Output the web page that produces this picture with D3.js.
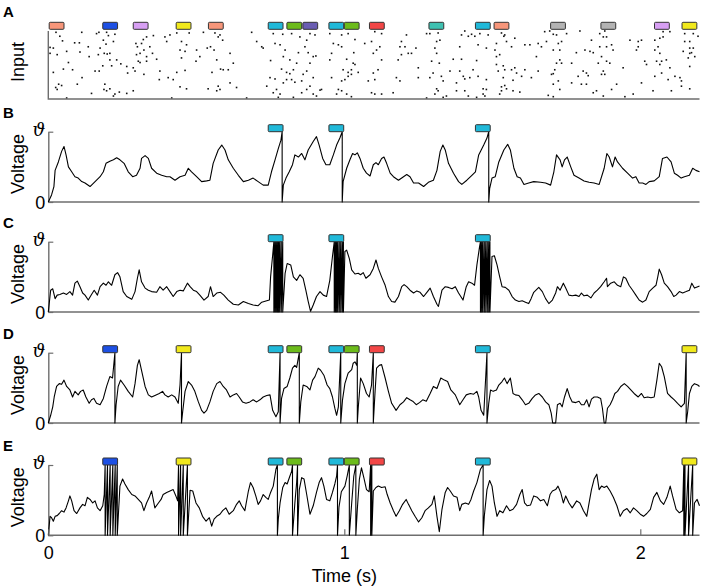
<!DOCTYPE html>
<html>
<head>
<meta charset="utf-8">
<script src="https://cdn.jsdelivr.net/npm/d3@7/dist/d3.min.js"></script>
<style>
	body { margin: 0; background: #fff; }
	svg text { font-family: "Liberation Sans", Arial, sans-serif; }
</style>
</head>
<body>
<svg id="chart" width="702" height="588"></svg>
<script>
/**********************************************************/
/*	Data (times in ms, voltage in units of threshold)     */
/**********************************************************/

// Repeated input patterns: start time and pattern id
var patternStarts = [3, 184, 287, 432, 541, 743, 806, 860, 948, 1000, 1085, 1286, 1443, 1506, 1697, 1867, 2048, 2141];
var patternIds    = [1, 2, 3, 4, 1, 5, 6, 7, 5, 6, 8, 9, 5, 1, 10, 10, 3, 4];
var patternLength = 50;

// Input raster: [time, afferent]
var inputSpikes = [
	[26,100],[39,94],[48,87],[6,77],[17,76],[89,84],[105,84],[62,71],[30,66],[6,68],[68,54],[51,44],[82,43],[17,39],[114,31],[98,21],[35,21],[45,19],[30,13],[25,16],[146,7],[113,100],[163,98],[171,100],[135,78],[107,70],[138,63],[158,41],[62,0],
	[197,100],[203,95],[225,97],[186,88],[195,82],[220,86],[175,76],[189,68],[199,67],[208,68],[169,66],[208,58],[231,58],[214,49],[245,52],[265,48],[184,49],[172,41],[268,38],[287,46],[304,56],[310,68],[301,78],[296,83],[321,89],[315,83],[332,93],[323,73],[298,66],[310,54],[332,56],[293,41],[323,36],[191,21],[188,13],[197,11],[208,14],[225,6],[220,3],[240,9],[265,7],[287,11],[355,95],[343,78],[352,68],[332,63],[366,59],[377,41],[375,28],[405,31],
	[394,93],[411,96],[400,86],[434,99],[476,99],[450,86],[467,81],[445,73],[462,71],[450,61],[501,73],[512,63],[499,56],[462,42],[434,39],[422,28],[445,17],[467,14],[417,0],[524,100],[563,99],[574,93],[580,96],[589,88],[548,78],[560,73],[537,76],[569,58],[553,39],[582,44],[591,43],[608,43],[625,53],[614,68],[574,18],[580,13],[569,11],[540,14],[636,16],[614,23],
	[687,100],[704,86],[726,76],[721,78],[760,98],[792,97],[783,81],[766,83],[800,73],[751,57],[794,63],[816,58],[828,43],[788,44],[805,39],[816,37],[766,29],[749,31],[805,28],[794,23],[738,18],[771,13],[760,8],[783,6],[777,1],[828,1],[670,0],[822,98],[850,93],[845,69],[839,53],[822,28],[833,24],[856,26],[856,8],
	[873,88],[901,96],[884,98],[867,78],[878,69],[895,63],[904,64],[884,53],[873,41],[861,36],[895,31],[884,18],[873,13],[895,6],[918,12],[923,13],[906,3],[951,98],[963,83],[980,81],[957,68],[951,58],[957,31],[980,13],[974,6],
	[991,96],[1013,98],[1036,89],[991,78],[1008,59],[1030,53],[1036,51],[1032,69],[1024,43],[1013,39],[996,43],[991,26],[1002,28],[1013,33],[1024,36],[1047,39],[991,11],[1008,6],[1024,2],[1069,83],[1092,86],[1098,68],[1103,101],[1126,98],[1120,78],[1109,73],[1126,58],[1114,43],[1098,38],[1103,28],[1081,26],[1092,8],[1103,6],[1126,6],[1165,8],[1193,86],[1205,78],[1188,78],[1210,96],[1216,68],[1193,66],[1182,58],[1176,31],[1188,26],
	[1227,68],[1242,76],[1250,46],[1250,31],[1278,98],[1289,98],[1317,99],[1312,86],[1323,88],[1306,76],[1312,68],[1295,56],[1321,53],[1300,38],[1289,31],[1328,33],[1357,41],[1334,26],[1312,14],[1317,11],[1306,6],[1345,3],[1334,1],[1278,0],[1368,59],[1379,23],[1396,96],[1407,102],[1419,94],[1430,97],[1390,78],[1396,59],[1390,41],[1402,33],[1407,29],[1424,31],[1379,11],[1407,11],[1419,3],
	[1441,94],[1458,98],[1486,96],[1452,81],[1480,76],[1447,57],[1435,43],[1452,33],[1480,28],[1469,14],[1480,13],[1469,6],[1475,3],[1447,1],[1514,83],[1509,73],[1514,63],[1525,66],[1514,51],[1520,41],[1531,99],[1539,94],[1542,96],[1548,86],[1576,91],[1565,78],[1537,49],[1542,43],[1576,46],[1565,43],[1537,31],[1570,27],[1599,33],[1582,38],[1531,17],[1542,19],[1548,14],[1531,11],[1525,6],[1570,11],[1593,9],[1610,43],[1610,81],[1627,81],[1632,31],[1655,41],[1655,83],[1649,63],[1666,78],
	[1677,101],[1694,102],[1706,97],[1683,86],[1717,96],[1723,83],[1734,86],[1751,98],[1706,73],[1728,73],[1728,58],[1717,53],[1734,53],[1711,43],[1706,37],[1700,36],[1723,26],[1706,21],[1728,13],[1689,4],[1706,2],[1768,53],[1796,102],[1784,69],[1813,73],[1835,88],[1830,71],[1841,69],[1807,41],[1818,38],[1824,34],[1790,33],[1768,23],[1801,21],[1818,21],[1852,11],[1880,102],[1863,98],[1875,93],[1886,93],[1863,78],[1886,78],[1903,81],[1908,73],[1869,63],[1886,56],[1897,53],[1858,53],[1875,41],[1869,36],[1880,36],[1903,13],[1875,3],[1841,8],
	[1942,46],[1920,21],[1948,2],[1965,88],[1993,86],[2004,88],[1993,78],[1987,73],[2015,56],[2021,51],[2004,23],[1976,6],[2049,88],[2060,78],[2066,91],[2077,93],[2077,101],[2100,101],[2049,73],[2066,68],[2055,56],[2072,56],[2088,58],[2066,51],[2100,46],[2072,38],[2049,33],[2094,28],[2105,11],[2043,11],[2117,33],[2134,31],[2139,26],[2139,18],[2167,14],[2150,98],[2179,98],[2195,94],[2150,86],[2167,86],[2145,71],[2167,76],[2179,76],[2173,69],[2167,68],[2162,61],[2167,48],[2184,63]
];

// Membrane potential traces: [time, voltage]
var traceB = [
	[0,0],[11,0.10],[19,0.22],[23,0.45],[34,0.57],[45,0.72],[53,0.79],[60,0.67],[68,0.50],[79,0.43],[90,0.36],[101,0.34],[113,0.29],[124,0.27],[141,0.22],[158,0.29],[175,0.36],[186,0.43],[195,0.55],[208,0.58],[220,0.60],[231,0.63],[242,0.60],[256,0.55],[270,0.43],[285,0.36],[298,0.38],[310,0.48],[315,0.62],[327,0.66],[338,0.62],[349,0.48],[366,0.41],[383,0.38],[400,0.36],[411,0.36],[428,0.31],[445,0.36],[462,0.38],[473,0.48],[484,0.43],[501,0.36],[518,0.29],[535,0.30],[546,0.31],[557,0.55],[574,0.74],[586,0.81],[597,0.74],[608,0.60],[625,0.48],[642,0.38],[659,0.29],[676,0.31],[692,0.34],[709,0.29],[726,0.24],[743,0.24],[754,0.43],[766,0.60],[777,0.76],[786,0.88],
	[794,0.24],[803,0.34],[814,0.43],[825,0.53],[833,0.67],[845,0.64],[856,0.69],[867,0.60],[878,0.74],[895,0.86],[906,0.93],[915,0.81],[927,0.62],[938,0.53],[951,0.53],[963,0.67],[974,0.81],[985,0.91],
	[996,0.29],[1008,0.48],[1019,0.60],[1028,0.69],[1036,0.67],[1044,0.70],[1053,0.62],[1064,0.48],[1075,0.41],[1087,0.37],[1098,0.53],[1107,0.56],[1115,0.53],[1126,0.62],[1134,0.64],[1143,0.55],[1155,0.41],[1166,0.36],[1183,0.31],[1200,0.36],[1211,0.39],[1222,0.36],[1234,0.27],[1251,0.27],[1268,0.22],[1284,0.28],[1301,0.31],[1313,0.45],[1324,0.72],[1333,0.81],[1341,0.74],[1352,0.55],[1369,0.41],[1386,0.29],[1397,0.25],[1414,0.31],[1431,0.38],[1443,0.43],[1454,0.67],[1471,0.81],[1482,0.91],
	[1491,0.19],[1499,0.34],[1510,0.36],[1522,0.57],[1539,0.74],[1552,0.82],[1561,0.74],[1573,0.48],[1584,0.36],[1595,0.34],[1607,0.25],[1623,0.27],[1640,0.29],[1663,0.28],[1680,0.27],[1697,0.24],[1708,0.43],[1717,0.67],[1729,0.60],[1736,0.50],[1744,0.60],[1753,0.64],[1765,0.50],[1776,0.38],[1793,0.34],[1810,0.30],[1827,0.28],[1844,0.27],[1861,0.25],[1878,0.48],[1887,0.69],[1895,0.64],[1906,0.50],[1915,0.64],[1923,0.57],[1940,0.48],[1957,0.41],[1974,0.34],[1985,0.36],[1996,0.27],[2008,0.27],[2019,0.25],[2030,0.29],[2047,0.30],[2064,0.36],[2075,0.62],[2090,0.64],[2104,0.57],[2115,0.41],[2126,0.38],[2138,0.34],[2149,0.36],[2166,0.38],[2177,0.48],[2188,0.45],[2200,0.43]
];
var spikesB = [790, 993, 1488];

var traceC = [
	[0,0],[8,0.31],[15,0.33],[23,0.19],[30,0.24],[39,0.25],[51,0.27],[62,0.25],[73,0.29],[82,0.24],[90,0.41],[98,0.44],[107,0.36],[116,0.27],[124,0.24],[135,0.17],[146,0.25],[155,0.31],[166,0.24],[175,0.36],[186,0.41],[195,0.38],[203,0.43],[214,0.38],[225,0.53],[234,0.56],[242,0.50],[253,0.29],[265,0.22],[282,0.18],[293,0.29],[301,0.48],[307,0.60],[315,0.43],[327,0.34],[338,0.31],[349,0.29],[366,0.28],[377,0.36],[388,0.31],[400,0.36],[411,0.29],[422,0.22],[434,0.29],[445,0.31],[456,0.30],[470,0.41],[479,0.36],[490,0.31],[501,0.29],[512,0.24],[526,0.17],[540,0.22],[548,0.36],[557,0.22],[569,0.27],[582,0.28],[593,0.24],[608,0.17],[625,0.11],[642,0.10],[659,0.15],[676,0.12],[692,0.10],[709,0.09],[721,0.14],[738,0.16],[747,0.17],[751,0.50],[758,0.81],
	[800,0.55],[807,0.69],[819,0.67],[828,0.50],[839,0.45],[850,0.53],[861,0.48],[870,0.31],[878,0.15],[886,0.01],[895,0.10],[906,0.22],[918,0.29],[929,0.24],[940,0.22],[951,0.45],[960,0.79],
	[1002,0.86],[1008,0.88],[1017,0.76],[1025,0.60],[1036,0.54],[1047,0.55],[1055,0.53],[1064,0.56],[1073,0.48],[1087,0.53],[1098,0.62],[1107,0.74],[1115,0.62],[1126,0.50],[1138,0.38],[1149,0.22],[1160,0.15],[1171,0.14],[1183,0.22],[1194,0.36],[1202,0.39],[1211,0.36],[1222,0.31],[1234,0.27],[1245,0.30],[1256,0.28],[1268,0.22],[1281,0.29],[1290,0.34],[1301,0.22],[1313,0.11],[1318,0.08],[1330,0.31],[1341,0.36],[1352,0.35],[1364,0.33],[1375,0.36],[1386,0.27],[1401,0.17],[1412,0.36],[1420,0.43],[1431,0.41],[1440,0.38],[1448,0.67],[1457,0.93],
	[1499,0.79],[1507,0.80],[1516,0.67],[1525,0.50],[1533,0.36],[1544,0.35],[1556,0.31],[1567,0.22],[1578,0.17],[1590,0.15],[1601,0.16],[1612,0.14],[1623,0.12],[1631,0.19],[1640,0.28],[1657,0.35],[1669,0.29],[1680,0.19],[1691,0.12],[1703,0.17],[1714,0.27],[1720,0.36],[1729,0.31],[1740,0.41],[1748,0.34],[1759,0.24],[1770,0.23],[1782,0.24],[1793,0.22],[1801,0.27],[1810,0.23],[1821,0.24],[1833,0.20],[1844,0.27],[1855,0.31],[1866,0.36],[1878,0.43],[1886,0.48],[1889,0.36],[1900,0.41],[1912,0.43],[1923,0.38],[1934,0.36],[1943,0.50],[1951,0.48],[1962,0.38],[1974,0.31],[1985,0.24],[1996,0.17],[2008,0.14],[2019,0.17],[2030,0.29],[2042,0.34],[2053,0.38],[2059,0.50],[2064,0.61],[2072,0.53],[2081,0.41],[2092,0.36],[2104,0.29],[2113,0.22],[2121,0.24],[2132,0.29],[2143,0.27],[2155,0.29],[2166,0.31],[2174,0.41],[2183,0.34],[2194,0.36],[2200,0.37]
];
var spikesC = [762, 766, 770, 774, 778, 782, 787, 792, 966, 970, 974, 978, 983, 988, 993, 997, 1460, 1464, 1468, 1473, 1478, 1483, 1488, 1492];

var traceD = [
	[0,0],[8,0.11],[15,0.23],[20,0.37],[28,0.52],[37,0.56],[45,0.55],[53,0.61],[62,0.52],[73,0.47],[82,0.37],[90,0.45],[101,0.40],[109,0.45],[118,0.47],[127,0.37],[138,0.28],[146,0.33],[154,0.35],[163,0.28],[175,0.26],[186,0.35],[197,0.52],[208,0.66],[217,0.64],
	[229,0.26],[236,0.52],[244,0.61],[256,0.54],[270,0.45],[285,0.37],[293,0.56],[301,0.82],[307,0.90],[315,0.75],[327,0.52],[338,0.40],[349,0.37],[364,0.40],[375,0.42],[386,0.45],[394,0.40],[405,0.37],[417,0.40],[428,0.37],[439,0.28],[445,0.54],
	[454,0.16],[462,0.45],[473,0.59],[484,0.54],[495,0.45],[507,0.30],[518,0.18],[526,0.14],[535,0.18],[546,0.30],[557,0.45],[569,0.56],[580,0.59],[591,0.52],[602,0.47],[614,0.37],[625,0.40],[636,0.42],[645,0.37],[656,0.30],[668,0.28],[681,0.30],[692,0.33],[704,0.30],[715,0.33],[726,0.37],[738,0.39],[749,0.40],[758,0.18],[769,0.09],[777,0.16],
	[788,0.35],[796,0.49],[807,0.52],[816,0.64],[825,0.78],[833,0.82],[839,0.79],
	[853,0.30],[861,0.54],[873,0.52],[884,0.47],[893,0.61],[901,0.66],[912,0.78],[920,0.75],[931,0.68],[942,0.54],[951,0.49],[960,0.37],[968,0.21],[974,0.11],[980,0.23],
	[994,0.33],[1002,0.56],[1013,0.71],[1025,0.76],[1030,0.85],[1036,0.87],[1042,0.82],
	[1047,0.21],[1055,0.64],[1064,0.56],[1075,0.42],[1084,0.37],[1092,0.54],
	[1104,0.45],[1109,0.78],[1118,0.82],[1126,0.83],[1138,0.64],[1149,0.45],[1160,0.28],[1175,0.18],[1188,0.26],[1200,0.30],[1211,0.36],[1222,0.33],[1231,0.31],[1243,0.26],[1254,0.29],[1265,0.33],[1277,0.31],[1290,0.42],[1301,0.52],[1313,0.49],[1326,0.64],[1338,0.61],[1349,0.59],[1360,0.47],[1375,0.40],[1390,0.26],[1401,0.33],[1412,0.40],[1426,0.42],[1437,0.41],[1448,0.45],[1454,0.37],[1462,0.18],[1471,0.11],
	[1488,0.28],[1494,0.47],[1503,0.45],[1514,0.47],[1522,0.54],[1533,0.59],[1541,0.64],[1550,0.56],[1561,0.64],[1570,0.42],[1578,0.40],[1590,0.39],[1601,0.33],[1612,0.26],[1623,0.28],[1635,0.35],[1646,0.40],[1657,0.42],[1669,0.37],[1680,0.30],[1691,0.26],[1699,0.14],[1704,0],[1714,0],[1720,0.26],[1729,0.28],[1736,0.23],[1744,0.37],[1753,0.49],[1762,0.37],[1770,0.30],[1782,0.29],[1793,0.31],[1801,0.26],[1810,0.26],[1819,0.33],[1827,0.23],[1835,0.34],[1844,0.37],[1855,0.37],[1866,0.35],[1872,0.21],[1878,0],[1883,0],[1889,0.21],[1898,0.26],[1906,0.33],[1914,0.42],[1923,0.45],[1934,0.52],[1946,0.56],[1957,0.52],[1968,0.47],[1979,0.42],[1993,0.37],[2004,0.42],[2013,0.36],[2025,0.37],[2036,0.36],[2047,0.37],[2056,0.61],[2064,0.85],[2072,0.80],[2081,0.66],[2092,0.42],[2104,0.37],[2115,0.33],[2126,0.28],[2138,0.23],[2149,0.28],
	[2160,0.16],[2166,0.42],[2174,0.52],[2183,0.56],[2194,0.54],[2200,0.52]
];
var spikesD = [225, 450, 783, 848, 988, 1044, 1098, 1482, 2155];

var traceE = [
	[0,0],[6,0.27],[11,0.25],[17,0.20],[23,0.27],[30,0.28],[37,0.31],[45,0.35],[53,0.33],[60,0.39],[68,0.49],[73,0.56],[79,0.49],[87,0.35],[96,0.31],[107,0.39],[116,0.44],[124,0.42],[132,0.54],[141,0.51],[150,0.46],[158,0.49],[166,0.39],[175,0.35],[184,0.42],[189,0.58],
	[242,0.70],[251,0.80],[259,0.73],[270,0.65],[282,0.58],[293,0.56],[304,0.51],[315,0.46],[323,0.35],[332,0.46],[341,0.54],[349,0.63],[360,0.39],[372,0.46],[381,0.51],[388,0.58],[400,0.61],[411,0.63],[422,0.65],[431,0.56],[437,0.49],
	[479,0.64],[488,0.63],[499,0.46],[510,0.39],[521,0.27],[533,0.20],[544,0.25],[552,0.13],[560,0.23],[569,0.27],[580,0.30],[589,0.35],[600,0.39],[611,0.30],[625,0.35],[636,0.44],[645,0.49],[653,0.42],[664,0.35],[676,0.63],[683,0.75],[692,0.68],[701,0.56],[709,0.44],[717,0.49],[726,0.58],[735,0.54],[743,0.51],[751,0.61],[760,0.70],[769,0.94],
	[777,0.23],[783,0.46],[792,0.68],[800,0.75],[807,0.73],[816,0.84],[822,0.91],
	[833,0.46],[839,0.75],
	[848,0.65],[856,0.82],[864,0.80],[873,0.58],[884,0.30],[895,0.42],[906,0.61],[915,0.75],[923,0.82],[931,0.70],[940,0.51],[951,0.49],[960,0.61],[968,0.73],[974,0.84],
	[982,0.40],[990,0.62],[1002,0.70],[1010,0.85],
	[1025,0.46],[1032,0.84],
	[1044,0.37],[1051,0.80],[1058,0.96],[1066,0.82],[1075,0.65],[1084,0.62],
	[1098,0.63],[1107,0.68],[1115,0.70],[1126,0.68],[1138,0.69],[1145,0.58],[1155,0.46],[1166,0.35],[1175,0.27],[1186,0.35],[1197,0.44],[1209,0.51],[1217,0.44],[1228,0.35],[1239,0.27],[1251,0.19],[1262,0.25],[1273,0.35],[1284,0.39],[1296,0.44],[1304,0.56],[1313,0.27],[1321,0.05],[1330,0.37],[1341,0.61],[1349,0.68],[1358,0.63],[1369,0.56],[1381,0.54],[1390,0.35],[1397,0.44],[1409,0.46],[1420,0.44],[1428,0.51],[1437,0.63],[1448,0.75],[1460,0.94],
	[1473,0.27],[1482,0.65],[1491,0.78],[1499,0.70],[1507,0.46],[1516,0.27],[1525,0.35],[1536,0.32],[1548,0.42],[1559,0.35],[1570,0.37],[1582,0.44],[1593,0.58],[1601,0.65],[1609,0.46],[1618,0.42],[1629,0.43],[1640,0.56],[1652,0.54],[1663,0.49],[1674,0.51],[1686,0.42],[1695,0.58],[1703,0.63],[1714,0.65],[1722,0.70],[1731,0.61],[1740,0.46],[1748,0.56],[1759,0.46],[1770,0.39],[1785,0.49],[1796,0.46],[1808,0.35],[1819,0.27],[1827,0.46],[1835,0.65],[1844,0.80],[1853,0.87],[1861,0.65],[1869,0.70],[1878,0.68],[1887,0.70],[1898,0.63],[1909,0.54],[1921,0.42],[1932,0.27],[1943,0.35],[1955,0.38],[1966,0.32],[1977,0.39],[1988,0.35],[2000,0.30],[2011,0.27],[2022,0.31],[2034,0.37],[2045,0.54],[2056,0.61],[2068,0.49],[2079,0.44],[2090,0.54],[2101,0.70],[2109,0.56],[2121,0.37],[2132,0.32],[2143,0.35],
	[2183,0.46],[2192,0.51],[2200,0.42]
];
var spikesE = [192, 200, 209, 218, 226, 233, 440, 447, 456, 470, 774, 825, 842, 977, 1017, 1039, 1089, 1093, 1469, 2147, 2151, 2163, 2177];

// Patterns detected by each neuron
var detectedB = [5];
var detectedC = [5];
var detectedD = [2, 4, 5, 6, 8];
var detectedE = [2, 4, 5, 6, 8];

var timeTicks = [0, 1, 2];

/**********************************************************/
/*	Styles and layout                                     */
/**********************************************************/

var patternColors = {
	1: '#f7967a', 2: '#1d50e4', 3: '#d79ff3', 4: '#f1e91c', 5: '#20b9d9',
	6: '#6cbb1b', 7: '#6a5db2', 8: '#f24646', 9: '#3fc1b1', 10: '#b3b3b3'
};
var axisColor = '#6e6e6e';

var layout = {
	left: 48.3, right: 699.5,
	raster: { top: 31, bottom: 99 },
	panels: [
		{ letter: 'B', base: 202, trace: traceB, spikes: spikesB, shown: detectedB },
		{ letter: 'C', base: 312, trace: traceC, spikes: spikesC, shown: detectedC },
		{ letter: 'D', base: 423, trace: traceD, spikes: spikesD, shown: detectedD },
		{ letter: 'E', base: 535.3, trace: traceE, spikes: spikesE, shown: detectedE }
	],
	threshold: 70.3,
	boxHeight: 7
};

var svg = d3.select('#chart');
var x = d3.scaleLinear().domain([0, 2200]).range([layout.left, layout.right]);
var xSec = d3.scaleLinear().domain([0, 2.2]).range([layout.left, layout.right]);

var patterns = patternStarts.map(function(s, i) { return { start: s, id: patternIds[i] }; });

function drawBoxes(g, list, bottom) {
	g.selectAll('rect.pattern').data(list).enter().append('rect')
		.attr('class', 'pattern')
		.attr('x', function(d) { return x(d.start); })
		.attr('width', function(d) { return x(d.start + patternLength) - x(d.start); })
		.attr('y', bottom - layout.boxHeight)
		.attr('height', layout.boxHeight)
		.attr('rx', 1)
		.style('fill', function(d) { return patternColors[d.id]; })
		.style('stroke', '#333')
		.style('stroke-width', 1);
}

function panelLetter(letter, y) {
	svg.append('text').attr('x', 3).attr('y', y)
		.style('font-weight', 'bold').style('font-size', '15px')
		.text(letter);
}

function sideLabel(label, y) {
	svg.append('text')
		.attr('transform', 'translate(24,' + y + ') rotate(-90)')
		.attr('text-anchor', 'middle')
		.style('font-size', '18px')
		.text(label);
}

/**********************************************************/
/*	Panel A: input raster                                 */
/**********************************************************/

var yA = d3.scaleLinear().domain([0, 102]).range([layout.raster.bottom - 1, layout.raster.top]);
var gA = svg.append('g');

gA.selectAll('rect.spike').data(inputSpikes).enter().append('rect')
	.attr('class', 'spike')
	.attr('x', function(d) { return x(d[0]) - 0.8; })
	.attr('y', function(d) { return yA(d[1]) - 0.8; })
	.attr('width', 1.6).attr('height', 1.6)
	.style('fill', '#111');

gA.append('path')
	.attr('d', 'M' + layout.left + ',' + layout.raster.top + 'V' + layout.raster.bottom + 'H' + layout.right)
	.style('fill', 'none').style('stroke', axisColor).style('stroke-width', 1.4);

drawBoxes(gA, patterns, layout.raster.top - 1.7);
panelLetter('A', 17);
sideLabel('Input', 62);

/**********************************************************/
/*	Panels B-E: membrane potential                        */
/**********************************************************/

// Merge trace samples and spikes (threshold crossing then reset)
function buildTrace(trace, spikes) {
	var pts = trace.map(function(d) { return { t: d[0], v: d[1], k: 0 }; });
	spikes.forEach(function(t) {
		pts.push({ t: t, v: 1, k: 1 });
		pts.push({ t: t, v: 0, k: 2 });
	});
	pts.sort(function(a, b) { return a.t - b.t || a.k - b.k; });
	return pts;
}

layout.panels.forEach(function(p) {
	var y = d3.scaleLinear().domain([0, 1]).range([p.base, p.base - layout.threshold]);
	var g = svg.append('g');

	// Voltage axis
	var axis = d3.axisLeft(y).tickValues([0, 1])
		.tickSizeInner(-5).tickSizeOuter(0).tickPadding(3)
		.tickFormat(function(d) { return d ? '\u03D1' : '0'; });
	var ga = g.append('g').attr('transform', 'translate(' + layout.left + ',0)').call(axis);
	ga.select('.domain').style('stroke', axisColor).style('stroke-width', 1.4);
	ga.selectAll('line').style('stroke', axisColor).style('stroke-width', 1.2);
	ga.selectAll('text').style('font-size', '18px').style('fill', '#000')
		.attr('dy', function(d) { return d ? '0.2em' : '0.36em'; })
		.style('font-family', function(d) { return d ? '"DejaVu Serif", serif' : null; })
		.style('font-style', function(d) { return d ? 'italic' : null; });

	// Baseline
	g.append('line').attr('x1', layout.left).attr('x2', layout.right)
		.attr('y1', p.base).attr('y2', p.base)
		.style('stroke', axisColor).style('stroke-width', 1.4);

	// Trace
	var line = d3.line().x(function(d) { return x(d.t); }).y(function(d) { return y(d.v); });
	g.append('path').datum(buildTrace(p.trace, p.spikes))
		.attr('d', line)
		.style('fill', 'none').style('stroke', '#000').style('stroke-width', 1.1)
		.style('stroke-linejoin', 'round');

	drawBoxes(g, patterns.filter(function(d) { return p.shown.indexOf(d.id) >= 0; }), y(1));
	panelLetter(p.letter, p.base - 84);
	sideLabel('Voltage', p.base - 38);
});

/**********************************************************/
/*	Time axis                                             */
/**********************************************************/

var last = layout.panels[layout.panels.length - 1];
var xAxis = d3.axisBottom(xSec).tickValues(timeTicks)
	.tickSizeInner(-6).tickSizeOuter(0).tickPadding(11)
	.tickFormat(d3.format('d'));
var gx = svg.append('g').attr('transform', 'translate(0,' + last.base + ')').call(xAxis);
gx.select('.domain').remove();
gx.selectAll('line').style('stroke', axisColor).style('stroke-width', 1.2);
gx.selectAll('text').style('font-size', '18px').style('fill', '#000');

svg.append('text').attr('x', xSec(1)).attr('y', 582)
	.attr('text-anchor', 'middle').style('font-size', '18px')
	.text('Time (s)');
</script>
</body>
</html>
